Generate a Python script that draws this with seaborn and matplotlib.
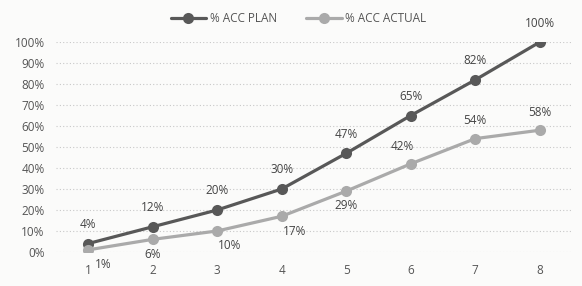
import pandas as pd
import matplotlib
matplotlib.use('Agg')
import matplotlib.pyplot as plt
import seaborn as sns

# data
periods = [1, 2, 3, 4, 5, 6, 7, 8]
acc_plan = [4, 12, 20, 30, 47, 65, 82, 100]
acc_actual = [1, 6, 10, 17, 29, 42, 54, 58]
series_names = ['% ACC PLAN', '% ACC ACTUAL']


def main():
    sns.set_style('white')
    plt.rcParams['font.family'] = ['Open Sans', 'DejaVu Sans']

    df = pd.DataFrame({'period': periods * 2,
                       'value': [v / 100 for v in acc_plan + acc_actual],
                       'series': [series_names[0]] * 8 + [series_names[1]] * 8})

    fig = plt.figure(figsize=(5.82, 2.86), dpi=100, facecolor='#fbfbfa')
    ax = fig.add_axes([0.096, 0.119, 0.887, 0.734])
    ax.set_facecolor('#fbfbfa')

    palette = {series_names[0]: '#585858', series_names[1]: '#aaaaaa'}
    sns.lineplot(data=df, x='period', y='value', hue='series', palette=palette,
                 marker='o', markersize=8, linewidth=2.3, markeredgewidth=0,
                 ax=ax, legend=True)

    ax.set_xlim(0.5, 8.5)
    ax.set_ylim(0, 1.0)
    ax.set_yticks([i / 10 for i in range(11)])
    ax.set_yticklabels([f'{i * 10}%' for i in range(11)])
    ax.set_xticks(periods)
    ax.tick_params(axis='y', labelsize=8.5, colors='#555555', length=0, pad=8)
    ax.tick_params(axis='x', labelsize=8.5, colors='#555555', length=0, pad=9)
    ax.grid(axis='y', linestyle=(0, (1, 2)), color='#c8c8c8', linewidth=0.8)
    ax.set_xlabel('')
    ax.set_ylabel('')
    for s in ax.spines.values():
        s.set_visible(False)

    # data labels
    for x, v in zip(periods, acc_plan):
        ax.annotate(f'{v}%', (x, v / 100), xytext=(0, 9), textcoords='offset points',
                    ha='center', va='bottom', fontsize=8.5, color='#444444')
    actual_offsets = [(11, -6), (0, -6), (9, -6), (9, -6), (0, -6), (-6, 8), (0, 8), (0, 8)]
    for x, v, (dx, dy) in zip(periods, acc_actual, actual_offsets):
        ax.annotate(f'{v}%', (x, v / 100), xytext=(dx, dy), textcoords='offset points',
                    ha='center', va='top' if dy < 0 else 'bottom',
                    fontsize=8.5, color='#444444')

    ax.legend(loc='lower center', bbox_to_anchor=(0.47, 1.06), ncol=2, frameon=False,
              fontsize=8.5, labelcolor='#555555', handlelength=3, columnspacing=2.5,
              handletextpad=0.3, borderaxespad=0)

    fig.savefig('out.png', dpi=100, facecolor=fig.get_facecolor())


if __name__ == '__main__':
    main()
